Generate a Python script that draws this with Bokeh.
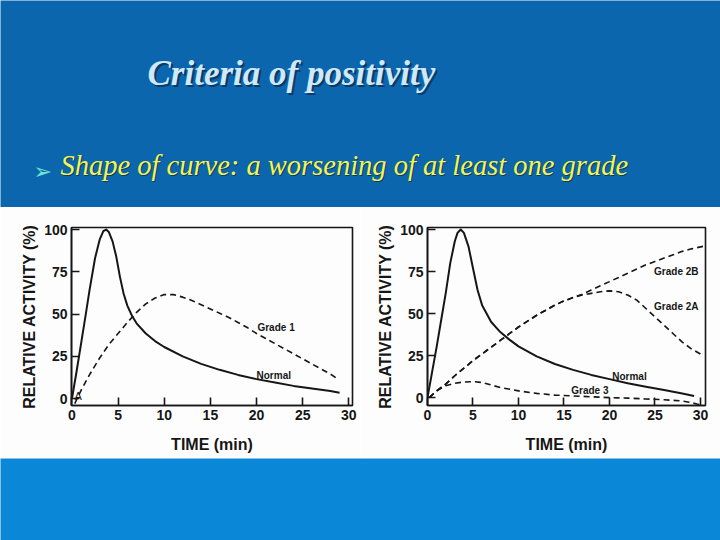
from bokeh.plotting import figure
from bokeh.layouts import column, row
from bokeh.models import Range1d, FixedTicker, Label
from bokeh.embed import file_html
from bokeh.resources import INLINE

# ---------------- data ----------------
title_text = "Criteria of positivity"
bullet_text = "Shape of curve: a worsening of at least one grade"
x_label = "TIME (min)"
y_label = "RELATIVE ACTIVITY (%)"
x_ticks = [0, 5, 10, 15, 20, 25, 30]
y_ticks = [0, 25, 50, 75, 100]

# Panel A (left)
a_normal_x = [0, 0.5, 1, 1.5, 1.9, 2.5, 3, 3.4, 3.7, 4.0, 4.4, 4.8, 5.2, 5.6, 6, 6.5, 7, 8, 9, 10, 12, 14, 16, 18, 20, 22, 24, 26, 28, 29]
a_normal_y = [0, 16, 33, 50, 64, 83, 94, 99, 100, 98.5, 93, 84, 72, 62, 55, 49, 44.5, 38.5, 34, 30.5, 25, 20.5, 17, 14, 11.5, 9.5, 7.5, 6, 4.5, 3.5]
a_grade1_x = [0.3, 1, 2, 3, 4, 5, 6, 7, 8, 9, 10, 11, 12, 13, 14, 15, 16, 17, 18, 19, 20, 21, 22, 23, 24, 25, 26, 27, 28, 28.7]
a_grade1_y = [-3, 5, 15, 24, 32, 38.5, 45, 51, 56, 59.5, 61.5, 61.5, 60, 58, 55.5, 53, 50.5, 48, 45, 42, 38.5, 35.5, 32.5, 29.5, 26.5, 23.5, 20.5, 17.5, 14.5, 12]

# Panel B (right)
b_normal_x = [0, 0.5, 1, 1.5, 2, 2.5, 3, 3.3, 3.65, 4.0, 4.5, 5, 5.5, 6, 7, 8, 9, 10, 12, 14, 16, 18, 20, 22, 24, 26, 28, 29.3]
b_normal_y = [0, 15, 30, 46, 62, 80, 93, 98, 100, 98, 90, 77, 64, 55, 45, 39, 34.5, 30.5, 24.5, 20, 16.5, 13.5, 11, 8.5, 6.5, 4.5, 2.5, 1]
b_grade2b_x = [0.2, 1, 2, 3, 4, 5, 6, 7, 8, 9, 10, 11, 12, 13, 14, 15, 16, 17, 18, 19, 20, 21, 22, 23, 24, 25, 26, 27, 28, 29, 30.3]
b_grade2b_y = [0, 4, 8, 13, 17.5, 22, 26, 30, 34, 38, 42, 45.5, 49, 52, 55, 57.5, 59.5, 61.5, 64, 66.5, 69, 71.5, 74, 76.5, 79, 81, 83, 85, 87, 88.5, 90]
b_grade2a_x = [0.2, 1, 2, 3, 4, 5, 6, 7, 8, 9, 10, 11, 12, 13, 14, 15, 16, 17, 18, 19, 20, 21, 22, 23, 24, 25, 26, 27, 28, 29, 30.3]
b_grade2a_y = [0, 4, 8, 13, 17.5, 22, 26, 30, 34, 38, 42, 45.5, 49, 52, 55, 57.5, 59.5, 61, 62, 63, 63.5, 63, 61, 58, 53, 48, 43, 38, 33, 29, 25]
b_grade3_x = [0.2, 1, 2, 3, 4, 5, 6, 7, 8, 10, 12, 14, 16, 18, 20, 22, 24, 26, 28, 29, 29.6, 30.2]
b_grade3_y = [0, 4, 7, 8.5, 9.3, 9.5, 9, 7.5, 6, 4, 2.5, 1.5, 1, 0.5, 0, -0.3, -0.8, -1.3, -2, -3, -3.8, -4.5]

a_labels = ["Grade 1", "Normal"]
a_label_x = [20.1, 20.0]
a_label_y = [42.3, 13.6]
b_labels = ["Grade 2B", "Grade 2A", "Normal", "Grade 3"]
b_label_x = [24.9, 24.9, 20.3, 15.8]
b_label_y = [75, 54.4, 12.7, 4.1]

# ---------------- styling ----------------
HEADER_BG = "#0b66ad"
FOOTER_BG = "#0a87d6"
INK = "#161616"
SANS = "Liberation Sans"


def chart(xr, yr, borders, series, lab_text, lab_x, lab_y):
    left, right, top, bottom = borders
    p = figure(width=360, height=251, output_backend="svg", toolbar_location=None,
               x_range=Range1d(*xr), y_range=Range1d(*yr),
               min_border_left=left, min_border_right=right,
               min_border_top=top, min_border_bottom=bottom)
    p.background_fill_color = "#fdfdfd"
    p.border_fill_color = "#fdfdfd"
    p.outline_line_color = INK
    p.outline_line_width = 1.6
    p.xgrid.visible = False
    p.ygrid.visible = False
    for ax, ticks in ((p.xaxis[0], x_ticks), (p.yaxis[0], y_ticks)):
        ax.ticker = FixedTicker(ticks=ticks)
        ax.minor_tick_line_color = None
        ax.major_tick_in = 8
        ax.major_tick_out = 0
        ax.major_tick_line_color = INK
        ax.major_tick_line_width = 1.6
        ax.axis_line_color = INK
        ax.axis_line_width = 1.6
        ax.major_label_text_font = SANS
        ax.major_label_text_font_style = "bold"
        ax.major_label_text_font_size = "14px"
        ax.major_label_text_color = INK
        ax.axis_label_text_font = SANS
        ax.axis_label_text_font_style = "bold"
        ax.axis_label_text_font_size = "16px"
        ax.axis_label_text_color = INK
    p.xaxis.axis_label = x_label
    p.yaxis.axis_label = y_label
    p.xaxis.major_label_standoff = 4
    p.yaxis.major_label_standoff = 4
    p.xaxis.axis_label_standoff = 13
    p.yaxis.axis_label_standoff = 3
    for xs, ys, dash, w in series:
        p.line(xs, ys, line_color=INK, line_width=w, line_dash=dash, line_join="round")
    p.text(x=lab_x, y=lab_y, text=lab_text, text_font_size="10px",
           text_font_style="bold", text_color=INK, text_baseline="middle",
           text_font={"value": SANS})
    return p


left = chart((-0.05, 30.4), (-4.1, 101.2), (71, 8, 17, 53),
             [(a_normal_x, a_normal_y, "solid", 2.0),
              (a_grade1_x, a_grade1_y, "6 4", 1.6)],
             a_labels, a_label_x, a_label_y)
left.add_layout(Label(x=3, y=4, x_units="screen", y_units="screen", text="A",
                      text_font=SANS, text_font_size="11px", text_color=INK))

right = chart((0.0, 30.55), (-4.7, 101.2), (67, 15, 20, 51),
              [(b_normal_x, b_normal_y, "solid", 2.0),
               (b_grade2b_x, b_grade2b_y, "6 4", 1.6),
               (b_grade2a_x, b_grade2a_y, "6 4", 1.6),
               (b_grade3_x, b_grade3_y, "6 4", 1.6)],
              b_labels, b_label_x, b_label_y)


def banner(h, bg):
    p = figure(width=720, height=h, output_backend="svg", toolbar_location=None,
               x_range=Range1d(0, 720), y_range=Range1d(0, h),
               min_border=0, min_border_left=0, min_border_right=0,
               min_border_top=0, min_border_bottom=0)
    p.axis.visible = False
    p.grid.visible = False
    p.background_fill_color = bg
    p.border_fill_color = bg
    p.outline_line_color = None
    return p


header = banner(207, HEADER_BG)
for dx, dy, col in ((2, -2, "#0c3a64"), (0, 0, "#cfe9fb")):
    header.add_layout(Label(x=147 + dx, y=115 + dy, x_units="screen", y_units="screen",
                            text=title_text, text_font="Liberation Serif",
                            text_font_style="bold italic", text_font_size="35px",
                            text_color=col))
header.add_layout(Label(x=33, y=36, x_units="screen", y_units="screen", text="\u27a2",
                        text_font="DejaVu Sans", text_font_size="22px",
                        text_baseline="middle", text_color="#6fe3d2"))
for dx, dy, col in ((1, -1, "#0c3a64"), (0, 0, "#f4f552")):
    header.add_layout(Label(x=60 + dx, y=27 + dy, x_units="screen", y_units="screen",
                            text=bullet_text, text_font="Liberation Serif",
                            text_font_style="italic", text_font_size="28.5px",
                            text_color=col))

footer = banner(82, FOOTER_BG)

page = column(header, row(left, right, spacing=0), footer, spacing=0)

open("out.html", "w").write(file_html(page, INLINE))
